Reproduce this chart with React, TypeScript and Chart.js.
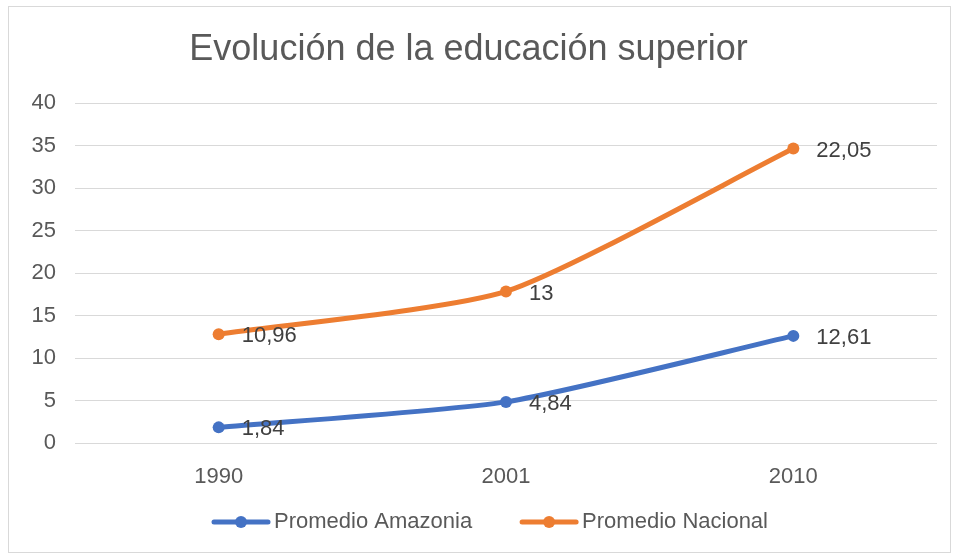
import React, { useEffect, useRef } from "react";
import { Chart, registerables } from "chart.js";

Chart.register(...registerables);

const TITLE = "Evolución de la educación superior";
const YEARS = ["1990", "2001", "2010"];
const AMAZONIA = [1.84, 4.84, 12.61];
const NACIONAL = [10.96, 13, 22.05];
const SERIES_NAMES = ["Promedio Amazonia", "Promedio Nacional"];
const COLORS = ["#4472C4", "#ED7D31"];
const Y_MIN = 0;
const Y_MAX = 40;
const Y_STEP = 5;

const FONT = "'Liberation Sans', Arial, sans-serif";
const TEXT_COLOR = "#595959";
const LABEL_COLOR = "#404040";

const fmt = (v: number) => String(v).replace(".", ",");

const framePlugin = {
  id: "frame",
  beforeDraw(chart: any) {
    const { ctx, width, height } = chart;
    ctx.save();
    ctx.fillStyle = "#ffffff";
    ctx.fillRect(0, 0, width, height);
    ctx.strokeStyle = "#d9d9d9";
    ctx.lineWidth = 1;
    ctx.strokeRect(8.5, 6.5, width - 12, height - 10);
    ctx.restore();
  },
};

const dataLabelPlugin = {
  id: "dataLabels",
  afterDatasetsDraw(chart: any) {
    const { ctx } = chart;
    ctx.save();
    ctx.font = `22px ${FONT}`;
    ctx.fillStyle = LABEL_COLOR;
    ctx.textAlign = "left";
    ctx.textBaseline = "middle";
    chart.data.datasets.forEach((ds: any, i: number) => {
      const meta = chart.getDatasetMeta(i);
      meta.data.forEach((pt: any, j: number) => {
        ctx.fillText(fmt(ds.data[j]), pt.x + 23, pt.y + 2);
      });
    });
    ctx.restore();
  },
};

const legendPlugin = {
  id: "customLegend",
  afterDraw(chart: any) {
    const { ctx, chartArea } = chart;
    ctx.save();
    ctx.font = `22px ${FONT}`;
    ctx.textBaseline = "middle";
    ctx.textAlign = "left";
    const lineLen = 58;
    const gapText = 4;
    const gapItem = 48;
    const widths = SERIES_NAMES.map((n) => ctx.measureText(n).width);
    const total =
      widths.reduce((a, w) => a + lineLen + gapText + w, 0) +
      gapItem * (SERIES_NAMES.length - 1);
    let x = (chartArea.left + chartArea.right) / 2 - 16 - total / 2;
    const y = 522;
    SERIES_NAMES.forEach((name, i) => {
      ctx.strokeStyle = COLORS[i];
      ctx.lineWidth = 5;
      ctx.lineCap = "round";
      ctx.beginPath();
      ctx.moveTo(x + 2, y);
      ctx.lineTo(x + lineLen - 2, y);
      ctx.stroke();
      ctx.fillStyle = COLORS[i];
      ctx.beginPath();
      ctx.arc(x + lineLen / 2, y, 6, 0, Math.PI * 2);
      ctx.fill();
      ctx.fillStyle = TEXT_COLOR;
      ctx.fillText(name, x + lineLen + gapText, y);
      x += lineLen + gapText + widths[i] + gapItem;
    });
    ctx.restore();
  },
};

export default function App() {
  const ref = useRef<HTMLCanvasElement | null>(null);

  useEffect(() => {
    if (!ref.current) return;
    const chart = new Chart(ref.current, {
      type: "line",
      data: {
        labels: YEARS,
        datasets: [AMAZONIA, NACIONAL].map((d, i) => ({
          label: SERIES_NAMES[i],
          data: d,
          borderColor: COLORS[i],
          backgroundColor: COLORS[i],
          borderWidth: 5,
          pointRadius: 6,
          pointBorderWidth: 0,
          pointBackgroundColor: COLORS[i],
          tension: 0.2,
          fill: false,
        })),
      },
      options: {
        responsive: false,
        animation: false,
        layout: { padding: { left: 0, right: 17, top: 0, bottom: 0 } },
        plugins: {
          legend: { display: false },
          tooltip: { enabled: false },
          title: {
            display: true,
            text: TITLE,
            color: TEXT_COLOR,
            font: { family: FONT, size: 36, weight: "normal" },
            padding: { top: 28, bottom: 32 },
          },
        },
        scales: {
          x: {
            offset: true,
            grid: { display: false },
            border: { display: false },
            ticks: {
              color: TEXT_COLOR,
              font: { family: FONT, size: 22 },
              padding: 13,
            },
            afterFit: (scale: any) => {
              scale.height = 113;
            },
          },
          y: {
            stacked: true,
            min: Y_MIN,
            max: Y_MAX,
            grid: { color: "#d9d9d9", lineWidth: 1, drawTicks: false },
            border: { display: false },
            ticks: {
              stepSize: Y_STEP,
              color: TEXT_COLOR,
              font: { family: FONT, size: 22 },
              padding: 19,
            },
            afterFit: (scale: any) => {
              scale.width = 75;
            },
          },
        },
      },
      plugins: [framePlugin, dataLabelPlugin, legendPlugin],
    });
    return () => chart.destroy();
  }, []);

  return (
    <div style={{ position: "absolute", left: 0, top: 0, width: 954, height: 556 }}>
      <canvas ref={ref} width={954} height={556} />
    </div>
  );
}
